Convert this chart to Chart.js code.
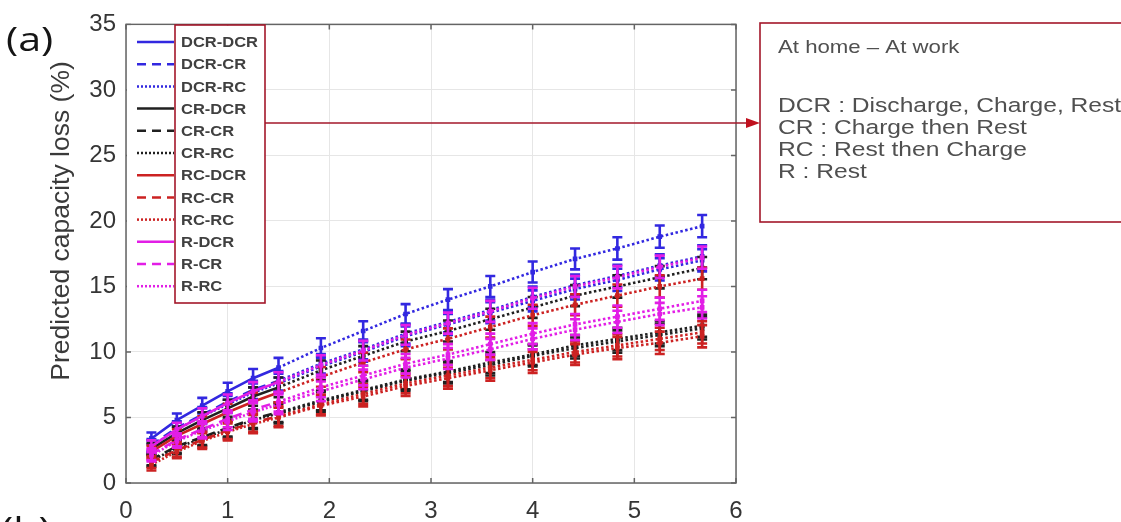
<!DOCTYPE html>
<html>
<head>
<meta charset="utf-8">
<script src="https://cdn.jsdelivr.net/npm/chart.js@4.4.1/dist/chart.umd.min.js"></script>
<style>
    html, body { margin: 0; padding: 0; background: #fff; }
    #wrap { width: 1121px; height: 522px; position: relative; overflow: hidden; }
</style>
</head>
<body>
<div id="wrap"><canvas id="chart" width="1121" height="522"></canvas></div>
<script>
/* global Chart */

// time axis (same for every series)
const xValues = [0.25, 0.5, 0.75, 1.0, 1.25, 1.5, 1.917, 2.333, 2.75, 3.167, 3.583, 4.0, 4.417, 4.833, 5.25, 5.667];
const xTicks = [0, 1, 2, 3, 4, 5, 6];
const yTicks = [0, 5, 10, 15, 20, 25, 30, 35];

const seriesNames = ['DCR-DCR', 'DCR-CR', 'DCR-RC', 'CR-DCR', 'CR-CR', 'CR-RC', 'RC-DCR', 'RC-CR', 'RC-RC', 'R-DCR', 'R-CR', 'R-RC'];

// predicted capacity loss (%)
const dcrDcr = [3.4, 4.8, 5.9, 7.0, 8.0, 8.8, 10.3, 11.6, 12.9, 14.0, 15.0, 16.1, 17.1, 17.9, 18.8, 19.6];
const dcrCr  = [2.9, 4.2, 5.2, 6.2, 7.1, 7.8, 9.1, 10.2, 11.4, 12.3, 13.2, 14.2, 15.1, 15.8, 16.6, 17.3];
const dcrRc  = [2.8, 4.1, 5.1, 6.0, 6.9, 7.6, 8.9, 10.0, 11.2, 12.1, 13.0, 13.9, 14.8, 15.5, 16.3, 17.0];
const crDcr  = [2.6, 3.8, 4.8, 5.7, 6.6, 7.3, 8.6, 9.7, 10.8, 11.6, 12.5, 13.4, 14.3, 15.0, 15.7, 16.4];
const crCr   = [1.8, 2.8, 3.5, 4.2, 4.9, 5.4, 6.3, 7.1, 7.9, 8.5, 9.2, 9.8, 10.5, 11.0, 11.5, 12.0];
const crRc   = [1.7, 2.7, 3.4, 4.1, 4.8, 5.3, 6.2, 7.0, 7.8, 8.4, 9.0, 9.7, 10.3, 10.8, 11.3, 11.8];
const rcDcr  = [2.4, 3.6, 4.5, 5.4, 6.2, 6.9, 8.1, 9.2, 10.2, 11.0, 11.9, 12.8, 13.6, 14.3, 15.0, 15.6];
const rcCr   = [1.6, 2.5, 3.3, 4.0, 4.6, 5.1, 6.0, 6.8, 7.6, 8.2, 8.8, 9.4, 10.0, 10.5, 11.0, 11.5];
const rcRc   = [1.4, 2.4, 3.2, 3.9, 4.5, 5.0, 5.9, 6.6, 7.4, 8.0, 8.6, 9.2, 9.8, 10.3, 10.7, 11.2];
const rDcr   = [2.8, 4.1, 5.1, 6.1, 7.0, 7.7, 9.0, 10.1, 11.3, 12.2, 13.1, 14.1, 15.0, 15.7, 16.5, 17.2];
const rCr    = [2.2, 3.3, 4.1, 4.9, 5.6, 6.2, 7.3, 8.2, 9.1, 9.8, 10.6, 11.4, 12.1, 12.7, 13.3, 13.9];
const rRc    = [2.1, 3.2, 4.0, 4.7, 5.4, 6.0, 7.0, 7.9, 8.8, 9.5, 10.2, 11.0, 11.7, 12.3, 12.9, 13.4];

// half height of the error bars, per time point
const errHalf = [0.45, 0.5, 0.6, 0.65, 0.7, 0.75, 0.75, 0.75, 0.75, 0.8, 0.8, 0.8, 0.8, 0.85, 0.85, 0.85];

const noteTitle = 'At home \u2013 At work';
const noteLines = ['DCR : Discharge, Charge, Rest', 'CR : Charge then Rest', 'RC : Rest then Charge', 'R : Rest'];

const allValues = [dcrDcr, dcrCr, dcrRc, crDcr, crCr, crRc, rcDcr, rcCr, rcRc, rDcr, rCr, rRc];

const colorBlue = '#3228e0';
const colorBlack = '#202020';
const colorRed = '#cc2222';
const colorMagenta = '#e21ee6';
const groupColors = [colorBlue, colorBlack, colorRed, colorMagenta];
const dashSolid = [];
const dashDashed = [9, 6];
const dashDotted = [2, 2];
const styleDashes = [dashSolid, dashDashed, dashDotted];
const predictedDash = [2.5, 2.5];

const darkRed = '#a3172a';
const sansFont = '"Liberation Sans", Arial, sans-serif';

function drawStretched(ctx, text, x, y, font, color, sx) {
    ctx.save();
    ctx.font = font;
    ctx.fillStyle = color;
    ctx.textAlign = 'left';
    ctx.textBaseline = 'middle';
    ctx.translate(x, y);
    ctx.scale(sx, 1);
    ctx.fillText(text, 0, 0);
    ctx.restore();
}

const errorBarPlugin = {
    id: 'errorBars',
    afterDatasetDraw(chart, args) {
        const ctx = chart.ctx;
        const meta = args.meta;
        const ds = chart.data.datasets[args.index];
        const yScale = chart.scales.y;
        ctx.save();
        ctx.strokeStyle = ds.borderColor;
        ctx.lineWidth = 2.6;
        meta.data.forEach((pt, i) => {
            const v = ds.data[i].y;
            const yTop = yScale.getPixelForValue(v + errHalf[i]);
            const yBot = yScale.getPixelForValue(v - errHalf[i]);
            ctx.beginPath();
            ctx.moveTo(pt.x, yTop);
            ctx.lineTo(pt.x, yBot);
            ctx.moveTo(pt.x - 5, yTop);
            ctx.lineTo(pt.x + 5, yTop);
            ctx.moveTo(pt.x - 5, yBot);
            ctx.lineTo(pt.x + 5, yBot);
            ctx.stroke();
        });
        ctx.restore();
    }
};

const decorPlugin = {
    id: 'decor',
    afterDraw(chart) {
        const ctx = chart.ctx;
        const a = chart.chartArea;
        const xs = chart.scales.x;
        const ys = chart.scales.y;

        // axes box + inward ticks
        ctx.save();
        ctx.strokeStyle = '#646464';
        ctx.lineWidth = 1.5;
        ctx.strokeRect(a.left, a.top, a.right - a.left, a.bottom - a.top);
        ctx.beginPath();
        xTicks.forEach((t) => {
            const px = xs.getPixelForValue(t);
            ctx.moveTo(px, a.bottom); ctx.lineTo(px, a.bottom - 5);
            ctx.moveTo(px, a.top); ctx.lineTo(px, a.top + 5);
        });
        yTicks.forEach((t) => {
            const py = ys.getPixelForValue(t);
            ctx.moveTo(a.left, py); ctx.lineTo(a.left + 5, py);
            ctx.moveTo(a.right, py); ctx.lineTo(a.right - 5, py);
        });
        ctx.stroke();
        ctx.restore();

        // legend
        const legLeft = a.left + 1;
        const boxLeft = 175;
        const boxRight = 265;
        const legTop = a.top + 1;
        const legBottom = 303;
        ctx.save();
        ctx.fillStyle = '#ffffff';
        ctx.fillRect(legLeft, legTop, boxRight - legLeft, legBottom - legTop);
        seriesNames.forEach((name, i) => {
            const y = 42 + i * 22.2;
            ctx.beginPath();
            ctx.strokeStyle = groupColors[Math.floor(i / 3)];
            ctx.lineWidth = 2.5;
            ctx.setLineDash(styleDashes[i % 3]);
            ctx.moveTo(137, y);
            ctx.lineTo(174, y);
            ctx.stroke();
            ctx.setLineDash([]);
            drawStretched(ctx, name, 181, y + 1, '600 15px ' + sansFont, '#404040', 1.1);
        });
        ctx.strokeStyle = darkRed;
        ctx.lineWidth = 1.6;
        ctx.strokeRect(boxLeft, 25, boxRight - boxLeft, legBottom - 25);

        // arrow to the note box
        const arrowY = 123;
        ctx.beginPath();
        ctx.moveTo(boxRight, arrowY);
        ctx.lineTo(748, arrowY);
        ctx.stroke();
        ctx.beginPath();
        ctx.fillStyle = '#c0101e';
        ctx.moveTo(760, arrowY);
        ctx.lineTo(746, arrowY - 5);
        ctx.lineTo(746, arrowY + 5);
        ctx.closePath();
        ctx.fill();

        // note box
        ctx.strokeRect(760, 23, 400, 199);
        drawStretched(ctx, noteTitle, 778, 48, '18.5px ' + sansFont, '#505050', 1.2);
        noteLines.forEach((line, i) => {
            drawStretched(ctx, line, 778, 106 + i * 22, '20.5px ' + sansFont, '#505050', 1.2);
        });

        // panel letters and axis title
        drawStretched(ctx, '(a)', 6, 42, '33px "Open Sans", sans-serif', '#151515', 1.25);
        drawStretched(ctx, '(b)', 1, 532, '33px "Open Sans", sans-serif', '#151515', 1.25);

        ctx.save();
        ctx.translate(62, 221);
        ctx.rotate(-Math.PI / 2);
        ctx.font = '26.5px ' + sansFont;
        ctx.fillStyle = '#3a3a3a';
        ctx.textAlign = 'center';
        ctx.textBaseline = 'middle';
        ctx.fillText('Predicted capacity loss (%)', 0, 0);
        ctx.restore();

        ctx.restore();
    }
};

function buildDatasets() {
    return seriesNames.map((name, i) => {
        const color = groupColors[Math.floor(i / 3)];
        const baseDash = styleDashes[i % 3];
        return {
            label: name,
            data: xValues.map((x, j) => ({ x, y: allValues[i][j] })),
            borderColor: color,
            backgroundColor: color,
            borderWidth: 2.6,
            borderDash: baseDash,
            pointStyle: 'rect',
            pointRadius: 3.3,
            pointBorderWidth: 0,
            tension: 0,
            order: seriesNames.length - i,
            segment: {
                borderDash: (c) => (c.p0.parsed.x >= 1.5 ? predictedDash : baseDash)
            }
        };
    });
}

document.addEventListener('DOMContentLoaded', function () {
    const ctx = document.getElementById('chart').getContext('2d');
    new Chart(ctx, {
        type: 'line',
        data: { datasets: buildDatasets() },
        plugins: [errorBarPlugin, decorPlugin],
        options: {
            responsive: false,
            animation: false,
            devicePixelRatio: 1,
            layout: { padding: { left: 0, right: 385, top: 22, bottom: 0 } },
            plugins: {
                legend: { display: false },
                tooltip: { enabled: false }
            },
            scales: {
                x: {
                    type: 'linear',
                    min: 0,
                    max: 6,
                    afterFit: (s) => { s.height = 39; },
                    afterBuildTicks: (s) => { s.ticks = xTicks.map((v) => ({ value: v })); },
                    grid: { color: '#e6e6e6', drawTicks: false },
                    border: { display: false },
                    ticks: {
                        padding: 14,
                        color: '#353535',
                        font: { family: sansFont, size: 24 }
                    }
                },
                y: {
                    min: 0,
                    max: 35,
                    afterFit: (s) => { s.width = 126; },
                    afterBuildTicks: (s) => { s.ticks = yTicks.map((v) => ({ value: v })); },
                    grid: { color: '#e6e6e6', drawTicks: false },
                    border: { display: false },
                    ticks: {
                        padding: 10,
                        color: '#353535',
                        font: { family: sansFont, size: 24 }
                    }
                }
            }
        }
    });
});
</script>
</body>
</html>
